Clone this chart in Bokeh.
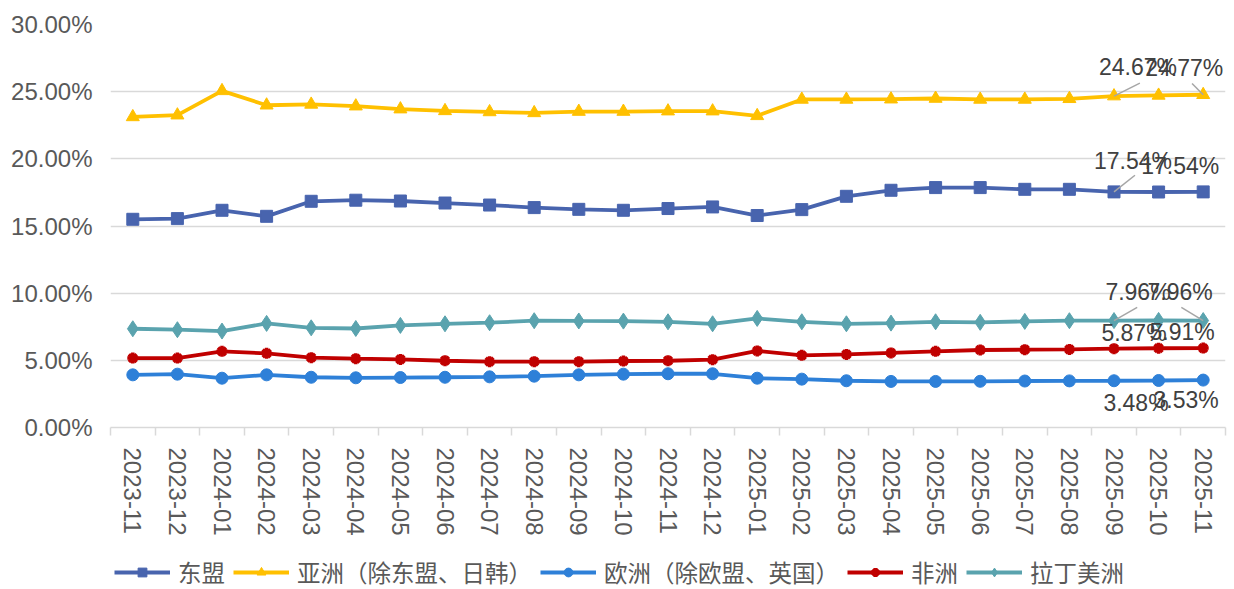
from bokeh.plotting import figure
from bokeh.layouts import column
from bokeh.models import (Range1d, FixedTicker, CustomJSTickFormatter, PrintfTickFormatter,
                          Legend, LegendItem, ColumnDataSource, LabelSet)
from bokeh.core.properties import value
from bokeh.embed import file_html
from bokeh.resources import INLINE

months = ["2023-11", "2023-12", "2024-01", "2024-02", "2024-03", "2024-04", "2024-05",
          "2024-06", "2024-07", "2024-08", "2024-09", "2024-10", "2024-11", "2024-12",
          "2025-01", "2025-02", "2025-03", "2025-04", "2025-05", "2025-06", "2025-07",
          "2025-08", "2025-09", "2025-10", "2025-11"]

asean = [15.50, 15.55, 16.17, 15.72, 16.84, 16.92, 16.86, 16.71, 16.56, 16.37, 16.24, 16.17,
         16.30, 16.42, 15.78, 16.22, 17.21, 17.66, 17.86, 17.86, 17.73, 17.73, 17.54, 17.53, 17.54]
asia = [23.12, 23.25, 25.06, 23.99, 24.05, 23.92, 23.70, 23.57, 23.49, 23.42, 23.52, 23.52,
        23.55, 23.55, 23.20, 24.42, 24.42, 24.44, 24.49, 24.42, 24.42, 24.47, 24.67, 24.72, 24.77]
europe = [3.92, 3.97, 3.67, 3.92, 3.74, 3.70, 3.72, 3.74, 3.77, 3.82, 3.92, 3.97,
          4.00, 4.00, 3.67, 3.60, 3.48, 3.43, 3.43, 3.44, 3.46, 3.47, 3.48, 3.50, 3.53]
africa = [5.17, 5.17, 5.67, 5.52, 5.20, 5.12, 5.07, 4.97, 4.90, 4.90, 4.90, 4.95,
          4.97, 5.05, 5.70, 5.37, 5.44, 5.55, 5.67, 5.77, 5.79, 5.81, 5.87, 5.90, 5.91]
latam = [7.35, 7.28, 7.18, 7.75, 7.42, 7.37, 7.60, 7.72, 7.80, 7.95, 7.93, 7.92,
         7.87, 7.72, 8.12, 7.87, 7.72, 7.77, 7.87, 7.83, 7.90, 7.95, 7.96, 7.97, 7.96]

names = ["东盟", "亚洲（除东盟、日韩）", "欧洲（除欧盟、英国）", "非洲", "拉丁美洲"]
y_ticks = [0, 5, 10, 15, 20, 25, 30]
labelled_idx = [22, 24]

xs = [i + 0.5 for i in range(len(months))]

p = figure(width=1234, height=553, output_backend="svg", toolbar_location=None,
           x_range=Range1d(0, len(months)), y_range=Range1d(0, 30),
           min_border_left=110, min_border_right=9, min_border_top=24, min_border_bottom=126)
p.outline_line_color = None
p.background_fill_color = "white"
p.border_fill_color = "white"

# axes
p.xaxis.ticker = FixedTicker(ticks=xs, minor_ticks=list(range(len(months) + 1)))
p.xaxis.formatter = CustomJSTickFormatter(args=dict(months=months),
                                          code="return months[Math.round(tick - 0.5)];")
p.xaxis.major_label_orientation = "vertical"
p.xaxis.major_tick_out = 0
p.xaxis.major_tick_in = 0
p.xaxis.minor_tick_out = 8
p.xaxis.minor_tick_in = 0
p.xaxis.minor_tick_line_color = "#D9D9D9"
p.xaxis.minor_tick_line_width = 1.5
p.xaxis.axis_line_color = "#D9D9D9"
p.xaxis.axis_line_width = 1.5
p.xaxis.major_label_standoff = 12
p.xaxis.major_label_text_font = "Liberation Sans"
p.xaxis.major_label_text_font_size = "24px"
p.xaxis.major_label_text_color = "#595959"

p.yaxis.ticker = FixedTicker(ticks=y_ticks)
p.yaxis.formatter = PrintfTickFormatter(format="%.2f%%")
p.yaxis.axis_line_color = None
p.yaxis.major_tick_out = 0
p.yaxis.major_tick_in = 0
p.yaxis.minor_tick_line_color = None
p.yaxis.major_label_standoff = 18
p.yaxis.major_label_text_font = "Liberation Sans"
p.yaxis.major_label_text_font_size = "24px"
p.yaxis.major_label_text_color = "#595959"

p.xgrid.visible = False
p.ygrid.ticker = FixedTicker(ticks=y_ticks[1:])
p.ygrid.grid_line_color = "#D9D9D9"
p.ygrid.grid_line_width = 1.5

series = [
    (asean, "#4864AE", "square", 12, 1),
    (asia, "#FFC000", "triangle", 13, 1),
    (europe, "#2E80D8", "circle", 12, 1),
    (africa, "#C00000", "asterisk", 11, 3.5),
    (latam, "#5AA3AE", "diamond", 16, 1),
]

for vals, color, marker, size, lw in series:
    p.line(xs, vals, line_color=color, line_width=3.8)
    p.scatter(xs, vals, marker=marker, size=size, fill_color=color,
              line_color=color, line_width=lw)

# leader lines (from label toward point)
leader = [  # (series values, idx, dx in categories, dy in %)
    (asia, 22, 0.58, 0.97), (asia, 24, -0.25, 0.84),
    (asean, 22, 0.47, 1.24),
    (latam, 22, 0.52, 0.98), (latam, 24, -0.49, 0.98),
]
p.segment(x0=[xs[i] + dx for v, i, dx, dy in leader], y0=[v[i] + dy for v, i, dx, dy in leader],
          x1=[xs[i] for v, i, dx, dy in leader], y1=[v[i] for v, i, dx, dy in leader],
          line_color="#A6A6A6", line_width=1.5)

# data labels
offsets = {
    0: [(19, 31), (-23, 26)],
    1: [(24, 29), (-19, 27)],
    2: [(22, -22), (-17, -20)],
    3: [(20, 16), (-21, 16)],
    4: [(24, 29), (-23, 29)],
}
lx, ly, lt, lxo, lyo = [], [], [], [], []
for si, (vals, color, marker, size, lw) in enumerate(series):
    for k, idx in enumerate(labelled_idx):
        lx.append(xs[idx])
        ly.append(vals[idx])
        lt.append(f"{vals[idx]:.2f}%")
        lxo.append(offsets[si][k][0])
        lyo.append(offsets[si][k][1])
src = ColumnDataSource(dict(x=lx, y=ly, text=lt, xo=lxo, yo=lyo))
labels = LabelSet(x="x", y="y", text="text", x_offset="xo", y_offset="yo", source=src,
                  text_align="center", text_baseline="middle",
                  text_font=value("Liberation Sans"),
                  text_font_size=value("23px"), text_color=value("#404040"))
p.add_layout(labels)

# legend strip below the chart (series drawn out of its visible y range, only legend shows)
pl = figure(width=1234, height=36, output_backend="svg", toolbar_location=None,
            x_range=p.x_range, y_range=Range1d(100, 101),
            x_axis_location=None, y_axis_location=None, min_border=0)
pl.outline_line_color = None
pl.xgrid.visible = False
pl.ygrid.visible = False
items = []
for (vals, color, marker, size, lw), name in zip(series, names):
    lr = pl.line(xs, vals, line_color=color, line_width=3.8)
    sr = pl.scatter(xs, vals, marker=marker, size=size, fill_color=color,
                    line_color=color, line_width=lw)
    items.append(LegendItem(label=name, renderers=[lr, sr]))
legend = Legend(items=items, orientation="horizontal", location=(4, 0),
                label_text_font="Noto Sans CJK SC", label_text_font_size="23.5px",
                label_text_color="#595959", glyph_width=56, glyph_height=22,
                label_standoff=8, spacing=8, padding=2, margin=0,
                border_line_color=None, background_fill_alpha=0)
pl.add_layout(legend)

layout = column(p, pl, spacing=0)
open("out.html", "w").write(file_html(layout, INLINE))
